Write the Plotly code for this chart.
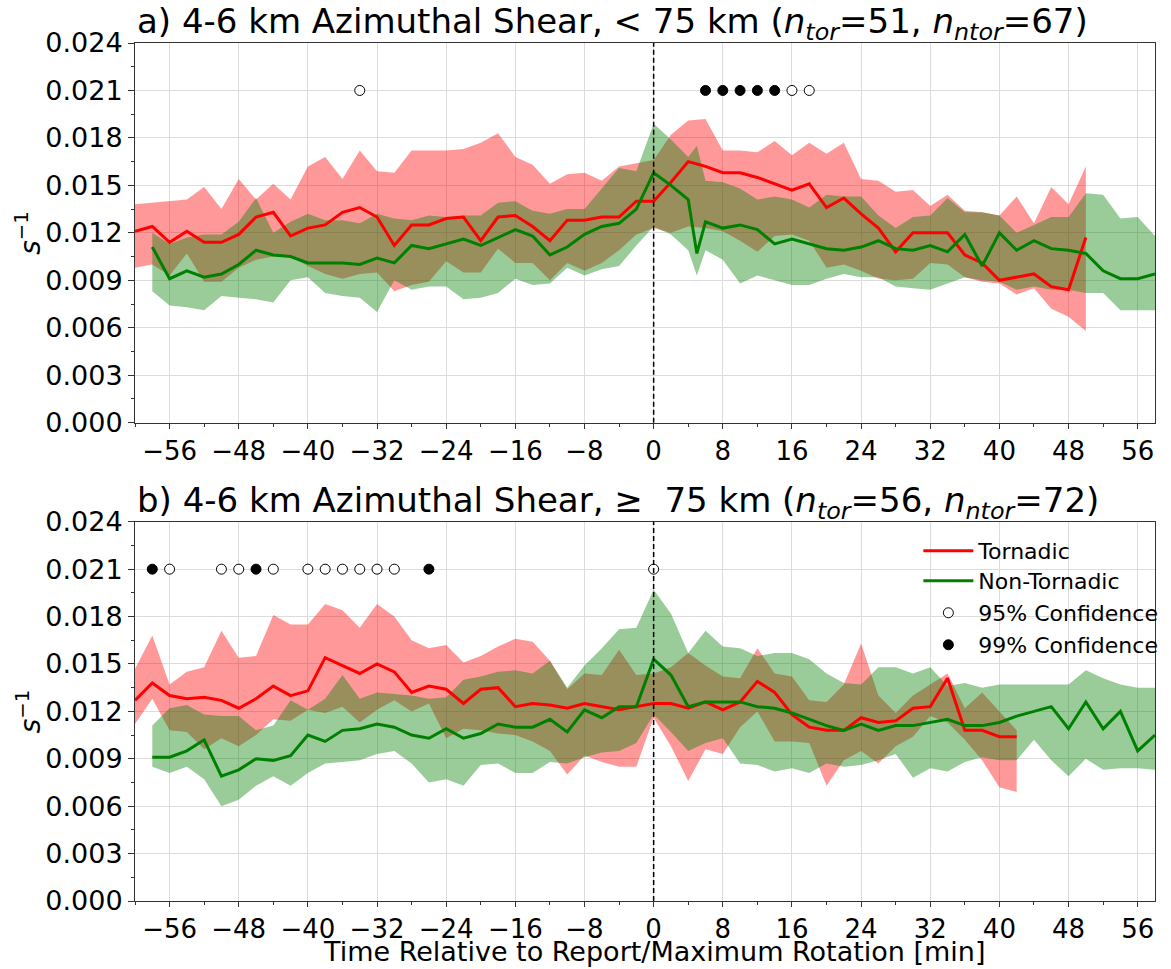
import plotly.graph_objects as go

# ---------------- data ----------------
# Panel a (< 75 km): tornadic
tor_a_t = list(range(-60, 51, 2))
tor_a_mean = [0.0121, 0.0124, 0.0114, 0.0121, 0.0114, 0.0114, 0.0119, 0.0130, 0.0133, 0.0118,
              0.0123, 0.0125, 0.0133, 0.0136, 0.0130, 0.0112, 0.0125, 0.0125, 0.0129, 0.0130,
              0.0115, 0.0130, 0.0131, 0.0124, 0.0115, 0.0128, 0.0128, 0.0130, 0.0130, 0.0140,
              0.0140, 0.0152, 0.0165, 0.0162, 0.0158, 0.0158, 0.0155, 0.0151, 0.0147, 0.0151,
              0.0136, 0.0142, 0.0132, 0.0123, 0.0108, 0.0120, 0.0120, 0.0120, 0.0106, 0.0101,
              0.0090, 0.0092, 0.0094, 0.0086, 0.0084, 0.0117]
tor_a_hi = [0.0138, 0.0139, 0.0140, 0.0141, 0.0149, 0.0135, 0.0154, 0.0141, 0.0151, 0.0141,
            0.0162, 0.0168, 0.0154, 0.0172, 0.0159, 0.0158, 0.0172, 0.0172, 0.0172, 0.0173,
            0.0177, 0.0183, 0.0168, 0.0163, 0.0151, 0.0157, 0.0158, 0.0153, 0.0162, 0.0164,
            0.0166, 0.0182, 0.0191, 0.0192, 0.0172, 0.0172, 0.0171, 0.0178, 0.0169, 0.0177,
            0.0170, 0.0177, 0.0154, 0.0153, 0.0146, 0.0147, 0.0137, 0.0144, 0.0134, 0.0133,
            0.0131, 0.0143, 0.0126, 0.0149, 0.0138, 0.0162]
tor_a_lo = [0.0098, 0.0100, 0.0093, 0.0107, 0.0089, 0.0089, 0.0098, 0.0103, 0.0105, 0.0105,
            0.0099, 0.0094, 0.0091, 0.0094, 0.0095, 0.0083, 0.0087, 0.0089, 0.0102, 0.0095,
            0.0095, 0.0110, 0.0101, 0.0101, 0.0090, 0.0101, 0.0096, 0.0101, 0.0109, 0.0119,
            0.0123, 0.0120, 0.0124, 0.0123, 0.0121, 0.0115, 0.0108, 0.0118, 0.0119, 0.0115,
            0.0098, 0.0100, 0.0096, 0.0091, 0.0090, 0.0091, 0.0101, 0.0100, 0.0092, 0.0089,
            0.0088, 0.0081, 0.0085, 0.0072, 0.0067, 0.0058]

# Panel a (< 75 km): non-tornadic
ntor_a_t = list(range(-58, 5, 2)) + [5] + list(range(6, 59, 2))
ntor_a_mean = [0.0111, 0.0091, 0.0096, 0.0092, 0.0094, 0.0100, 0.0109, 0.0106, 0.0105, 0.0101,
               0.0101, 0.0101, 0.0100, 0.0104, 0.0101, 0.0112, 0.0110, 0.0113, 0.0116, 0.0112,
               0.0117, 0.0122, 0.0118, 0.0106, 0.0111, 0.0119, 0.0124, 0.0126, 0.0135, 0.0158,
               0.0150, 0.0141, 0.0107, 0.0127, 0.0123, 0.0125, 0.0122, 0.0113, 0.0116, 0.0113,
               0.0110, 0.0109, 0.0111, 0.0115, 0.0110, 0.0109, 0.0112, 0.0108, 0.0119, 0.0099,
               0.0120, 0.0109, 0.0115, 0.0110, 0.0109, 0.0107, 0.0096, 0.0091, 0.0091, 0.0094]
ntor_a_hi = [0.0120, 0.0113, 0.0117, 0.0119, 0.0119, 0.0127, 0.0142, 0.0120, 0.0127, 0.0132,
             0.0128, 0.0128, 0.0126, 0.0132, 0.0129, 0.0128, 0.0131, 0.0130, 0.0131, 0.0131,
             0.0139, 0.0140, 0.0134, 0.0132, 0.0135, 0.0135, 0.0148, 0.0161, 0.0159, 0.0189,
             0.0179, 0.0168, 0.0175, 0.0153, 0.0152, 0.0148, 0.0141, 0.0143, 0.0141, 0.0136,
             0.0144, 0.0143, 0.0143, 0.0131, 0.0123, 0.0130, 0.0131, 0.0142, 0.0133, 0.0133,
             0.0131, 0.0120, 0.0125, 0.0130, 0.0130, 0.0145, 0.0144, 0.0129, 0.0130, 0.0118]
ntor_a_lo = [0.0083, 0.0074, 0.0073, 0.0071, 0.0080, 0.0079, 0.0078, 0.0076, 0.0090, 0.0092,
             0.0082, 0.0080, 0.0079, 0.0070, 0.0090, 0.0084, 0.0086, 0.0086, 0.0078, 0.0079,
             0.0082, 0.0091, 0.0087, 0.0088, 0.0098, 0.0093, 0.0097, 0.0099, 0.0112, 0.0124,
             0.0119, 0.0109, 0.0093, 0.0109, 0.0103, 0.0088, 0.0093, 0.0090, 0.0087, 0.0087,
             0.0091, 0.0094, 0.0092, 0.0092, 0.0086, 0.0085, 0.0084, 0.0088, 0.0092, 0.0090,
             0.0089, 0.0084, 0.0086, 0.0084, 0.0084, 0.0082, 0.0082, 0.0071, 0.0071, 0.0071]

# Panel b (>= 75 km): tornadic
tor_b_t = list(range(-60, 43, 2))
tor_b_mean = [0.0127, 0.0138, 0.0130, 0.0128, 0.0129, 0.0127, 0.0122, 0.0128, 0.0136, 0.0130,
              0.0133, 0.0154, 0.0149, 0.0144, 0.0150, 0.0145, 0.0132, 0.0136, 0.0134, 0.0125,
              0.0134, 0.0135, 0.0123, 0.0125, 0.0124, 0.0122, 0.0125, 0.0123, 0.0121, 0.0123,
              0.0125, 0.0125, 0.0122, 0.0126, 0.0121, 0.0126, 0.0139, 0.0132, 0.0118, 0.0110,
              0.0108, 0.0108, 0.0116, 0.0113, 0.0114, 0.0122, 0.0123, 0.0141, 0.0108, 0.0108,
              0.0104, 0.0104]
tor_b_hi = [0.0147, 0.0168, 0.0137, 0.0145, 0.0148, 0.0171, 0.0154, 0.0155, 0.0181, 0.0175,
            0.0175, 0.0188, 0.0184, 0.0173, 0.0188, 0.0180, 0.0165, 0.0160, 0.0162, 0.0151,
            0.0155, 0.0161, 0.0166, 0.0164, 0.0152, 0.0134, 0.0144, 0.0143, 0.0159, 0.0143,
            0.0144, 0.0148, 0.0157, 0.0149, 0.0142, 0.0141, 0.0160, 0.0144, 0.0142, 0.0127,
            0.0126, 0.0137, 0.0163, 0.0130, 0.0119, 0.0130, 0.0137, 0.0144, 0.0122, 0.0132,
            0.0120, 0.0108]
tor_b_lo = [0.0112, 0.0128, 0.0108, 0.0107, 0.0096, 0.0103, 0.0098, 0.0105, 0.0115, 0.0114,
            0.0121, 0.0119, 0.0123, 0.0113, 0.0121, 0.0127, 0.0120, 0.0125, 0.0103, 0.0109,
            0.0108, 0.0106, 0.0105, 0.0101, 0.0095, 0.0080, 0.0092, 0.0088, 0.0085, 0.0085,
            0.0116, 0.0098, 0.0076, 0.0096, 0.0093, 0.0110, 0.0120, 0.0101, 0.0101, 0.0100,
            0.0073, 0.0089, 0.0095, 0.0087, 0.0098, 0.0104, 0.0117, 0.0113, 0.0102, 0.0089,
            0.0072, 0.0069]

# Panel b (>= 75 km): non-tornadic
ntor_b_t = list(range(-58, 59, 2))
ntor_b_mean = [0.0091, 0.0091, 0.0095, 0.0102, 0.0079, 0.0083, 0.0090, 0.0089, 0.0092, 0.0105,
               0.0101, 0.0108, 0.0109, 0.0112, 0.0110, 0.0105, 0.0103, 0.0109, 0.0103, 0.0106,
               0.0112, 0.0110, 0.0110, 0.0115, 0.0107, 0.0121, 0.0116, 0.0123, 0.0123, 0.0153,
               0.0143, 0.0123, 0.0126, 0.0126, 0.0126, 0.0123, 0.0122, 0.0119, 0.0115, 0.0111,
               0.0108, 0.0112, 0.0108, 0.0111, 0.0111, 0.0113, 0.0115, 0.0111, 0.0111, 0.0113,
               0.0117, 0.0120, 0.0123, 0.0109, 0.0126, 0.0109, 0.0120, 0.0095, 0.0105]
ntor_b_hi = [0.0111, 0.0122, 0.0124, 0.0118, 0.0117, 0.0117, 0.0108, 0.0111, 0.0127, 0.0121,
             0.0128, 0.0143, 0.0128, 0.0132, 0.0131, 0.0130, 0.0128, 0.0129, 0.0140, 0.0142,
             0.0145, 0.0146, 0.0144, 0.0152, 0.0135, 0.0149, 0.0160, 0.0172, 0.0173, 0.0197,
             0.0182, 0.0157, 0.0171, 0.0161, 0.0160, 0.0155, 0.0157, 0.0157, 0.0153, 0.0144,
             0.0138, 0.0137, 0.0148, 0.0148, 0.0144, 0.0148, 0.0136, 0.0138, 0.0135, 0.0137,
             0.0137, 0.0137, 0.0137, 0.0137, 0.0146, 0.0141, 0.0137, 0.0135, 0.0135]
ntor_b_lo = [0.0085, 0.0081, 0.0085, 0.0077, 0.0060, 0.0064, 0.0073, 0.0079, 0.0073, 0.0081,
             0.0087, 0.0088, 0.0089, 0.0093, 0.0095, 0.0087, 0.0075, 0.0077, 0.0073, 0.0086,
             0.0087, 0.0081, 0.0081, 0.0088, 0.0087, 0.0091, 0.0094, 0.0095, 0.0100, 0.0118,
             0.0107, 0.0095, 0.0100, 0.0103, 0.0087, 0.0086, 0.0082, 0.0084, 0.0081, 0.0087,
             0.0085, 0.0086, 0.0089, 0.0093, 0.0078, 0.0084, 0.0082, 0.0088, 0.0091, 0.0089,
             0.0089, 0.0102, 0.0089, 0.0079, 0.0090, 0.0083, 0.0084, 0.0084, 0.0083]

# Times where the difference is significant
sig95_a = [-34, 16, 18]
sig99_a = [6, 8, 10, 12, 14]
sig95_b = [-56, -50, -48, -44, -40, -38, -36, -34, -32, -30, 0]
sig99_b = [-58, -46, -26]
SIG_LEVEL = 0.021

x_ticks = [-56, -48, -40, -32, -24, -16, -8, 0, 8, 16, 24, 32, 40, 48, 56]
x_ticktext = [str(v).replace("-", "\u2212") for v in x_ticks]
y_ticks = [0.000, 0.003, 0.006, 0.009, 0.012, 0.015, 0.018, 0.021, 0.024]

titles = [
    "a) 4-6 km Azimuthal Shear, &lt; 75 km (<i>n</i><sub><i>tor</i></sub>=51, <i>n</i><sub><i>ntor</i></sub>=67)",
    "b) 4-6 km Azimuthal Shear, \u2265  75 km (<i>n</i><sub><i>tor</i></sub>=56, <i>n</i><sub><i>ntor</i></sub>=72)",
]
x_title = "Time Relative to Report/Maximum Rotation [min]"

FONT = "DejaVu Sans"
RED = "rgb(255,0,0)"
GREEN = "rgb(0,128,0)"
RED_FILL = "rgba(255,0,0,0.4)"
GREEN_FILL = "rgba(0,128,0,0.4)"

fig = go.Figure()


def band(t, hi, lo, color, xa, ya):
    return go.Scatter(x=list(t) + list(t)[::-1], y=list(hi) + list(lo)[::-1],
                      fill="toself", fillcolor=color, line=dict(width=0),
                      mode="lines", hoverinfo="skip", showlegend=False,
                      xaxis=xa, yaxis=ya)


panels = [
    ("x", "y", tor_a_t, tor_a_mean, tor_a_hi, tor_a_lo,
     ntor_a_t, ntor_a_mean, ntor_a_hi, ntor_a_lo, sig95_a, sig99_a, False),
    ("x2", "y2", tor_b_t, tor_b_mean, tor_b_hi, tor_b_lo,
     ntor_b_t, ntor_b_mean, ntor_b_hi, ntor_b_lo, sig95_b, sig99_b, True),
]

for (xa, ya, tt, tm, th, tl, nt, nm, nh, nl, s95, s99, legend) in panels:
    fig.add_trace(band(tt, th, tl, RED_FILL, xa, ya))
    fig.add_trace(band(nt, nh, nl, GREEN_FILL, xa, ya))
    fig.add_trace(go.Scatter(x=tt, y=tm, mode="lines", line=dict(color=RED, width=3),
                             name="Tornadic", showlegend=legend, legend="legend",
                             xaxis=xa, yaxis=ya))
    fig.add_trace(go.Scatter(x=nt, y=nm, mode="lines", line=dict(color=GREEN, width=3),
                             name="Non-Tornadic", showlegend=legend, legend="legend2",
                             xaxis=xa, yaxis=ya))
    fig.add_trace(go.Scatter(x=s95, y=[SIG_LEVEL] * len(s95), mode="markers",
                             marker=dict(symbol="circle", size=10, color="white",
                                         line=dict(color="black", width=1)),
                             name="95% Confidence", showlegend=legend, legend="legend3",
                             xaxis=xa, yaxis=ya))
    fig.add_trace(go.Scatter(x=s99, y=[SIG_LEVEL] * len(s99), mode="markers",
                             marker=dict(symbol="circle", size=10, color="black",
                                         line=dict(color="black", width=1)),
                             name="99% Confidence", showlegend=legend, legend="legend4",
                             xaxis=xa, yaxis=ya))

xaxis_style = dict(range=[-60, 58], tickmode="array", tickvals=x_ticks, ticktext=x_ticktext,
                   showgrid=True, gridcolor="#dcdcdc", gridwidth=1,
                   ticks="outside", ticklen=5, tickwidth=1, tickcolor="#333",
                   minor=dict(dtick=4, tick0=0, ticks="outside", ticklen=3, tickcolor="#333",
                              showgrid=False),
                   showline=True, linecolor="#333", linewidth=1, mirror=True,
                   zeroline=False, tickfont=dict(family=FONT, size=26, color="black"))
yaxis_style = dict(range=[0, 0.024], tickmode="array", tickvals=y_ticks, tickformat=".3f",
                   showgrid=True, gridcolor="#dcdcdc", gridwidth=1,
                   ticks="outside", ticklen=6, tickwidth=1, tickcolor="#333",
                   minor=dict(dtick=0.0015, tick0=0, ticks="outside", ticklen=3,
                              tickcolor="#333", showgrid=False),
                   showline=True, linecolor="#333", linewidth=1, mirror=True,
                   zeroline=False, tickfont=dict(family=FONT, size=27, color="black"))

# one legend box per entry so the row spacing can be set freely
legend_rows = [0.4079, 0.3730, 0.3357, 0.2984]
legend_boxes = {}
for i, yrow in enumerate(legend_rows):
    key = "legend" if i == 0 else "legend%d" % (i + 1)
    legend_boxes[key] = dict(x=0.768, y=yrow, xanchor="left", yanchor="middle",
                             bgcolor="rgba(0,0,0,0)", itemwidth=50,
                             font=dict(family=FONT, size=22, color="black"))

fig.update_layout(
    width=1171, height=969,
    margin=dict(l=135, r=16, t=43, b=68, autoexpand=False),
    paper_bgcolor="white", plot_bgcolor="white",
    font=dict(family=FONT, color="black"),
    xaxis=dict(domain=[0, 1], anchor="y", **xaxis_style),
    yaxis=dict(domain=[0.5575, 1], anchor="x", **yaxis_style),
    xaxis2=dict(domain=[0, 1], anchor="y2", **xaxis_style),
    yaxis2=dict(domain=[0, 0.442], anchor="x2", **yaxis_style),
    showlegend=True,
    **legend_boxes,
)

# vertical reference line at t = 0 in each panel
for xa, ya in [("x", "y"), ("x2", "y2")]:
    fig.add_shape(type="line", xref=xa, yref=ya + " domain", x0=0, x1=0, y0=0, y1=1,
                  line=dict(color="black", width=1.5, dash="5px,3px"))

# panel titles and y-axis labels
for title, ytop, ymid in [(titles[0], 1.0, (1 + 0.5575) / 2), (titles[1], 0.442, 0.442 / 2)]:
    fig.add_annotation(text=title, xref="paper", yref="paper", x=0, y=ytop,
                       xanchor="left", yanchor="bottom", showarrow=False, yshift=-5,
                       font=dict(family=FONT, size=34, color="black"))
    fig.add_annotation(text="<i>s</i><sup>\u22121</sup>", xref="paper", yref="paper",
                       x=-0.104, y=ymid, xanchor="center", yanchor="middle",
                       textangle=-90, showarrow=False,
                       font=dict(family=FONT, size=28, color="black"))

# x-axis label under the lower panel, resting on the bottom edge
fig.add_annotation(text=x_title, xref="paper", yref="paper", x=0.509, y=0,
                   xanchor="center", yanchor="bottom", yshift=-68, showarrow=False,
                   font=dict(family=FONT, size=27, color="black"))

fig.write_html("out.html")
